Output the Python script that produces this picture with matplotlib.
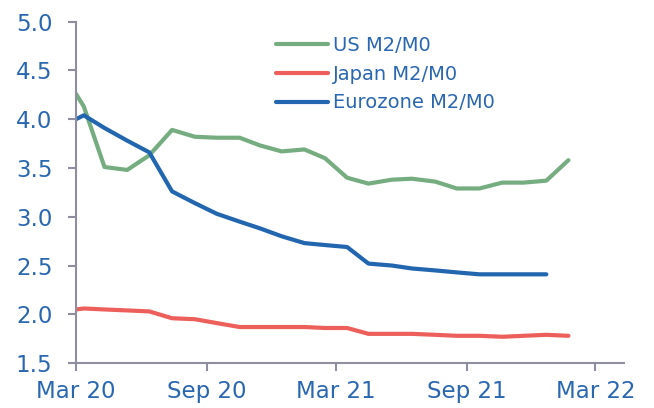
import matplotlib
matplotlib.use("Agg")
import matplotlib.pyplot as plt
import pandas as pd

dates = ["2020-03-01", "2020-03-12", "2020-04-10", "2020-05-12", "2020-06-12",
         "2020-07-14", "2020-08-15", "2020-09-15", "2020-10-17", "2020-11-15",
         "2020-12-15", "2021-01-16", "2021-02-14", "2021-03-17", "2021-04-16",
         "2021-05-19", "2021-06-16", "2021-07-19", "2021-08-18", "2021-09-19",
         "2021-10-21", "2021-11-20", "2021-12-22", "2022-01-22"]

us = [4.26, 4.13, 3.51, 3.48, 3.63, 3.89, 3.82, 3.81, 3.81, 3.73, 3.67, 3.69,
      3.60, 3.40, 3.34, 3.38, 3.39, 3.36, 3.29, 3.29, 3.35, 3.35, 3.37, 3.58]
japan = [2.05, 2.06, 2.05, 2.04, 2.03, 1.96, 1.95, 1.91, 1.87, 1.87, 1.87, 1.87,
         1.86, 1.86, 1.80, 1.80, 1.80, 1.79, 1.78, 1.78, 1.77, 1.78, 1.79, 1.78]
euro = [4.00, 4.04, 3.91, 3.78, 3.66, 3.26, 3.14, 3.03, 2.95, 2.88, 2.80, 2.73,
        2.71, 2.69, 2.52, 2.50, 2.47, 2.45, 2.43, 2.41, 2.41, 2.41, 2.41]

tick_dates = ["2020-03-01", "2020-09-01", "2021-03-01", "2021-09-01", "2022-03-01"]
tick_labels = ["Mar 20", "Sep 20", "Mar 21", "Sep 21", "Mar 22"]
y_ticks = [1.5, 2.0, 2.5, 3.0, 3.5, 4.0, 4.5, 5.0]

plt.rcParams['font.family'] = ['DejaVu Sans']

x = pd.to_datetime(dates)
fig = plt.figure(figsize=(6.54, 4.08), dpi=100)
ax = fig.add_axes([0.1162, 0.110, 0.8378, 0.837])

green = "#76ad80"
red = "#ec5f5a"
blue = "#2266b0"
txt = "#2a67b1"
axc = "#8e8ea0"

ax.plot(x, us, color=green, lw=3.0, label="US M2/M0", solid_capstyle='round')
ax.plot(x, japan, color=red, lw=3.0, label="Japan M2/M0", solid_capstyle='round')
ax.plot(x[:len(euro)], euro, color=blue, lw=3.0, label="Eurozone M2/M0", solid_capstyle='round')

ax.set_ylim(1.5, 5.0)
ax.set_xlim(pd.Timestamp("2020-03-01"), pd.Timestamp("2022-04-10"))
ax.set_yticks(y_ticks)
ax.set_yticklabels([f"{v:.1f}" for v in y_ticks])
ax.set_xticks(pd.to_datetime(tick_dates))
ax.set_xticklabels(tick_labels)

for s in ["top", "right"]:
    ax.spines[s].set_visible(False)
for s in ["left", "bottom"]:
    ax.spines[s].set_color(axc)
    ax.spines[s].set_linewidth(1.5)

ax.tick_params(axis='both', colors=axc, width=1.5, length=6, labelcolor=txt)
ax.tick_params(axis='y', labelsize=16.5, pad=11)
ax.tick_params(axis='x', labelsize=16.5, pad=6)

leg = ax.legend(loc="upper left", bbox_to_anchor=(276 / 654, 1 - 36 / 408),
                bbox_transform=fig.transFigure, frameon=False,
                fontsize=14, handlelength=2.67, handletextpad=0.25,
                labelspacing=0.5, borderpad=0, borderaxespad=0)
for t in leg.get_texts():
    t.set_color(txt)

fig.savefig("out.png", dpi=100)
